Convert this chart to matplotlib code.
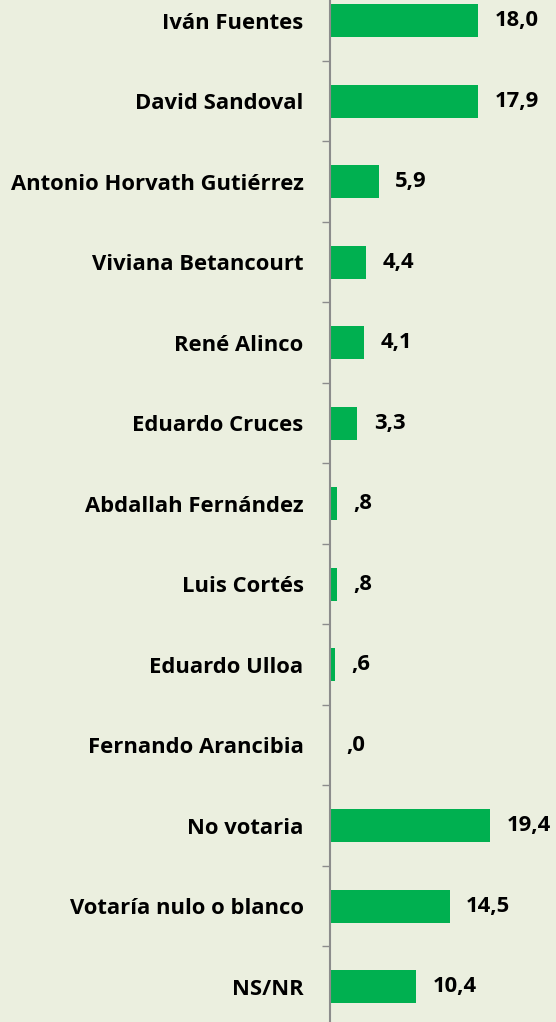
import matplotlib
matplotlib.use("Agg")
import matplotlib.pyplot as plt
import numpy as np

candidatos = [
    "Iván Fuentes",
    "David Sandoval",
    "Antonio Horvath Gutiérrez",
    "Viviana Betancourt",
    "René Alinco",
    "Eduardo Cruces",
    "Abdallah Fernández",
    "Luis Cortés",
    "Eduardo Ulloa",
    "Fernando Arancibia",
    "No votaria",
    "Votaría nulo o blanco",
    "NS/NR",
]
porcentajes = [18.0, 17.9, 5.9, 4.4, 4.1, 3.3, 0.8, 0.8, 0.6, 0.0, 19.4, 14.5, 10.4]

BG = "#EBEFDF"
VERDE = "#00B050"
GRIS = "#8C8C8C"
FUENTE = "Open Sans"
TAM = 15.8


def etiqueta(v):
    s = f"{v:.1f}".replace(".", ",")
    if s.startswith("0,"):
        s = s[1:]
    return s


fig = plt.figure(figsize=(5.56, 10.22), dpi=100, facecolor=BG)
ax = fig.add_axes([330 / 556, 0, 1 - 330 / 556, 1], facecolor=BG)
ax.patch.set_alpha(0)

y = np.arange(len(candidatos))
ax.barh(y, porcentajes, height=0.41, color=VERDE, zorder=2)

for yi, v in zip(y, porcentajes):
    ax.annotate(etiqueta(v), xy=(v, yi), xytext=(12, 0), textcoords="offset points",
                ha="left", va="center", fontsize=TAM, fontweight="bold",
                family=FUENTE, color="black")

ax.set_xticks([])
ax.set_yticks(y)
ax.set_yticklabels(candidatos, fontsize=TAM, fontweight="bold", family=FUENTE)
ax.set_yticks(np.arange(-0.5, len(candidatos), 1.0), minor=True)
ax.tick_params(axis="y", which="major", length=0, pad=19)
ax.tick_params(axis="y", which="minor", length=5.5, width=1, color=GRIS)

# limits after the ticks, otherwise set_yticks widens them
ax.set_xlim(0, 27.4)
ax.set_ylim(12.44, -0.255)

for side in ["top", "right", "bottom"]:
    ax.spines[side].set_visible(False)
ax.spines["left"].set_color(GRIS)
ax.spines["left"].set_linewidth(1.5)

fig.savefig("out.png", dpi=100, facecolor=BG)
